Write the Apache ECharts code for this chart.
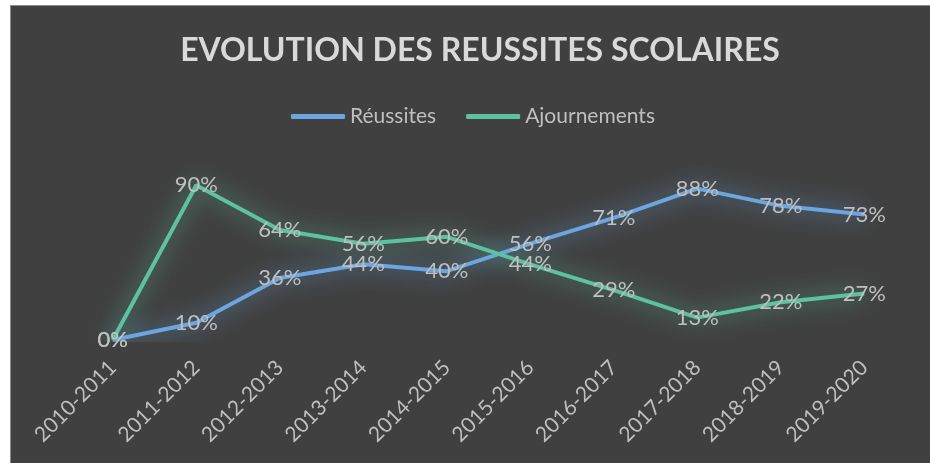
<!DOCTYPE html>
<html><head><meta charset="utf-8">
<script src="https://cdn.jsdelivr.net/npm/echarts@6/dist/echarts.min.js"></script>
<style>
html,body{margin:0;padding:0;background:#fff;width:930px;height:463px;overflow:hidden}
#bg{position:absolute;left:10px;top:5px;width:920px;height:458px;background:#404040;border-left:1px solid #8a8a8a;border-top:1px solid #8a8a8a;box-sizing:border-box}
#chart{position:absolute;left:0;top:0;width:930px;height:463px}
</style></head>
<body><div id="bg"></div><div id="chart"></div>
<script>
const categories = ['2010-2011','2011-2012','2012-2013','2013-2014','2014-2015','2015-2016','2016-2017','2017-2018','2018-2019','2019-2020'];
const reussites = [0,10,36,44,40,56,71,88,78,73];
const ajournements = [0,90,64,56,60,44,29,13,22,27];
const seriesNames = ['Réussites','Ajournements'];
const titleText = 'EVOLUTION DES REUSSITES SCOLAIRES';

const FONT = 'Lato, "Open Sans", sans-serif';
const blue = '#6CA6E0', teal = '#5DC1A2';
const chart = echarts.init(document.getElementById('chart'), null, {renderer:'canvas'});
function mk(name, data, color){
  return {
    name, type:'line', data, symbol:'circle', symbolSize:0.01, showSymbol:true,
    itemStyle:{color:color},
    lineStyle:{width:4, color:color, shadowBlur:22, shadowColor:color},
    label:{show:true, position:'inside', formatter:p=>p.value+'%', color:'#bfbfbf', fontSize:22, fontFamily:FONT},
    emphasis:{disabled:true}, z:2
  };
}
chart.setOption({
  backgroundColor:'transparent',
  animation:false,
  title:{text:titleText, left:475, textAlign:'center', top:30,
    textStyle:{color:'#d9d9d9', fontSize:32, fontWeight:'bold', fontFamily:FONT}},
  legend:{data:seriesNames, left:286, top:101, itemWidth:54, itemHeight:5, itemGap:30, icon:'roundRect',
    textStyle:{color:'#bfbfbf', fontSize:21, fontFamily:FONT}},
  grid:{left:71, right:24, top:168, bottom:123},
  xAxis:{type:'category', data:categories, boundaryGap:true,
    axisLine:{show:false}, axisTick:{show:false},
    axisLabel:{rotate:45, margin:24, color:'#bfbfbf', fontSize:21, fontFamily:FONT, interval:0}},
  yAxis:{type:'value', min:0, max:100, show:false},
  series:[mk(seriesNames[0], reussites, blue), mk(seriesNames[1], ajournements, teal)]
});
</script></body></html>
